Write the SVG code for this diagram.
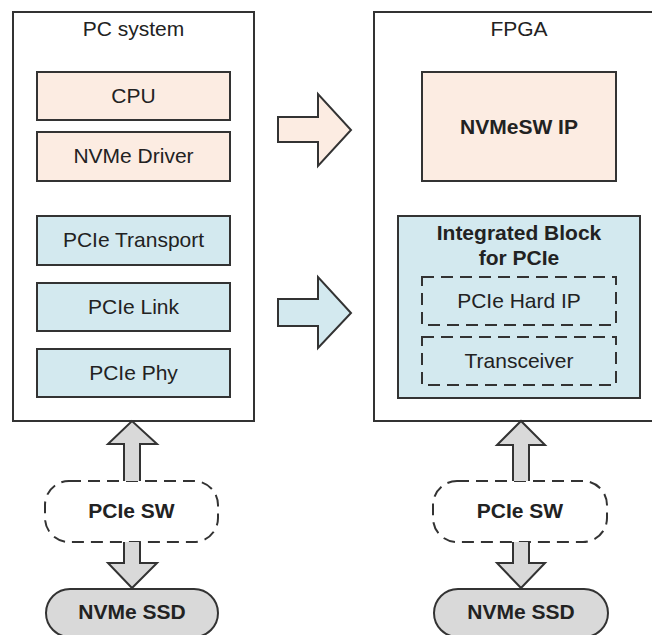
<svg xmlns="http://www.w3.org/2000/svg" width="652" height="635" viewBox="0 0 652 635">
<style>
.frame{fill:#fff;stroke:#333;stroke-width:2}
.peach{fill:#fcece2;stroke:#333;stroke-width:2}
.blue{fill:#d3e9ef;stroke:#333;stroke-width:2}
.dash{fill:none;stroke:#333;stroke-width:2;stroke-dasharray:12 7}
.gray{fill:#d9d9d9;stroke:#333;stroke-width:2;stroke-linejoin:miter}
text{font-family:"Liberation Sans",Arial,sans-serif;font-size:21px;fill:#222;text-anchor:middle}
.b{font-weight:bold}
</style>
<rect width="652" height="635" fill="#fff"/>
<g id="pc-system">
<rect class="frame" x="13" y="12" width="241" height="409"/>
<text x="133.5" y="36">PC system</text>
</g>
<g id="fpga">
<rect class="frame" x="374" y="12" width="290" height="409"/>
<text x="519" y="36">FPGA</text>
</g>
<g id="cpu"><rect class="peach" x="37" y="72" width="193" height="48"/><text x="133.5" y="103">CPU</text></g>
<g id="nvme-driver"><rect class="peach" x="37" y="132" width="193" height="49"/><text x="133.5" y="163">NVMe Driver</text></g>
<g id="pcie-transport"><rect class="blue" x="37" y="216" width="193" height="49"/><text x="133.5" y="247">PCIe Transport</text></g>
<g id="pcie-link"><rect class="blue" x="37" y="283" width="193" height="48"/><text x="133.5" y="314">PCIe Link</text></g>
<g id="pcie-phy"><rect class="blue" x="37" y="349" width="193" height="48"/><text x="133.5" y="380">PCIe Phy</text></g>
<g id="nvmesw-ip"><rect class="peach" x="422" y="72" width="194" height="109"/><text class="b" x="519" y="134">NVMeSW IP</text></g>
<g id="integrated-block"><rect class="blue" x="398" y="216" width="242" height="182"/><text class="b" x="519" y="240">Integrated Block</text><text class="b" x="519" y="265">for PCIe</text></g>
<g id="pcie-hard-ip"><rect class="dash" x="422" y="277" width="194" height="48"/><text x="519" y="308">PCIe Hard IP</text></g>
<g id="transceiver"><rect class="dash" x="422" y="337" width="194" height="48"/><text x="519" y="368">Transceiver</text></g>
<g id="pcie-sw-left"><rect class="dash" x="45" y="481" width="173" height="61" rx="24"/><text class="b" x="131.5" y="518">PCIe SW</text></g>
<g id="pcie-sw-right"><rect class="dash" x="433" y="481" width="174" height="61" rx="24"/><text class="b" x="520" y="518">PCIe SW</text></g>
<g id="nvme-ssd-left"><rect class="gray" x="46" y="589" width="172" height="48" rx="24"/><text class="b" x="132" y="619">NVMe SSD</text></g>
<g id="nvme-ssd-right"><rect class="gray" x="434" y="589" width="174" height="48" rx="24"/><text class="b" x="521" y="619">NVMe SSD</text></g>
<g id="connectors">
<path class="peach" d="M278,117 H318 V94 L351,130 L318,166 V142 H278 Z"/>
<path class="blue" d="M278,299 H318 V277 L351,313 L318,348 V326 H278 Z"/>
<path class="gray" d="M124,481 V444 H108 L132,421 L157,444 H140 V481"/>
<path class="gray" d="M124,542 V563 H108 L132,588 L157,563 H140 V542"/>
<path class="gray" d="M513,481 V445 H497 L521,421 L545,445 H529 V481"/>
<path class="gray" d="M513,542 V563 H497 L521,588 L545,563 H529 V542"/>
</g>
</svg>
